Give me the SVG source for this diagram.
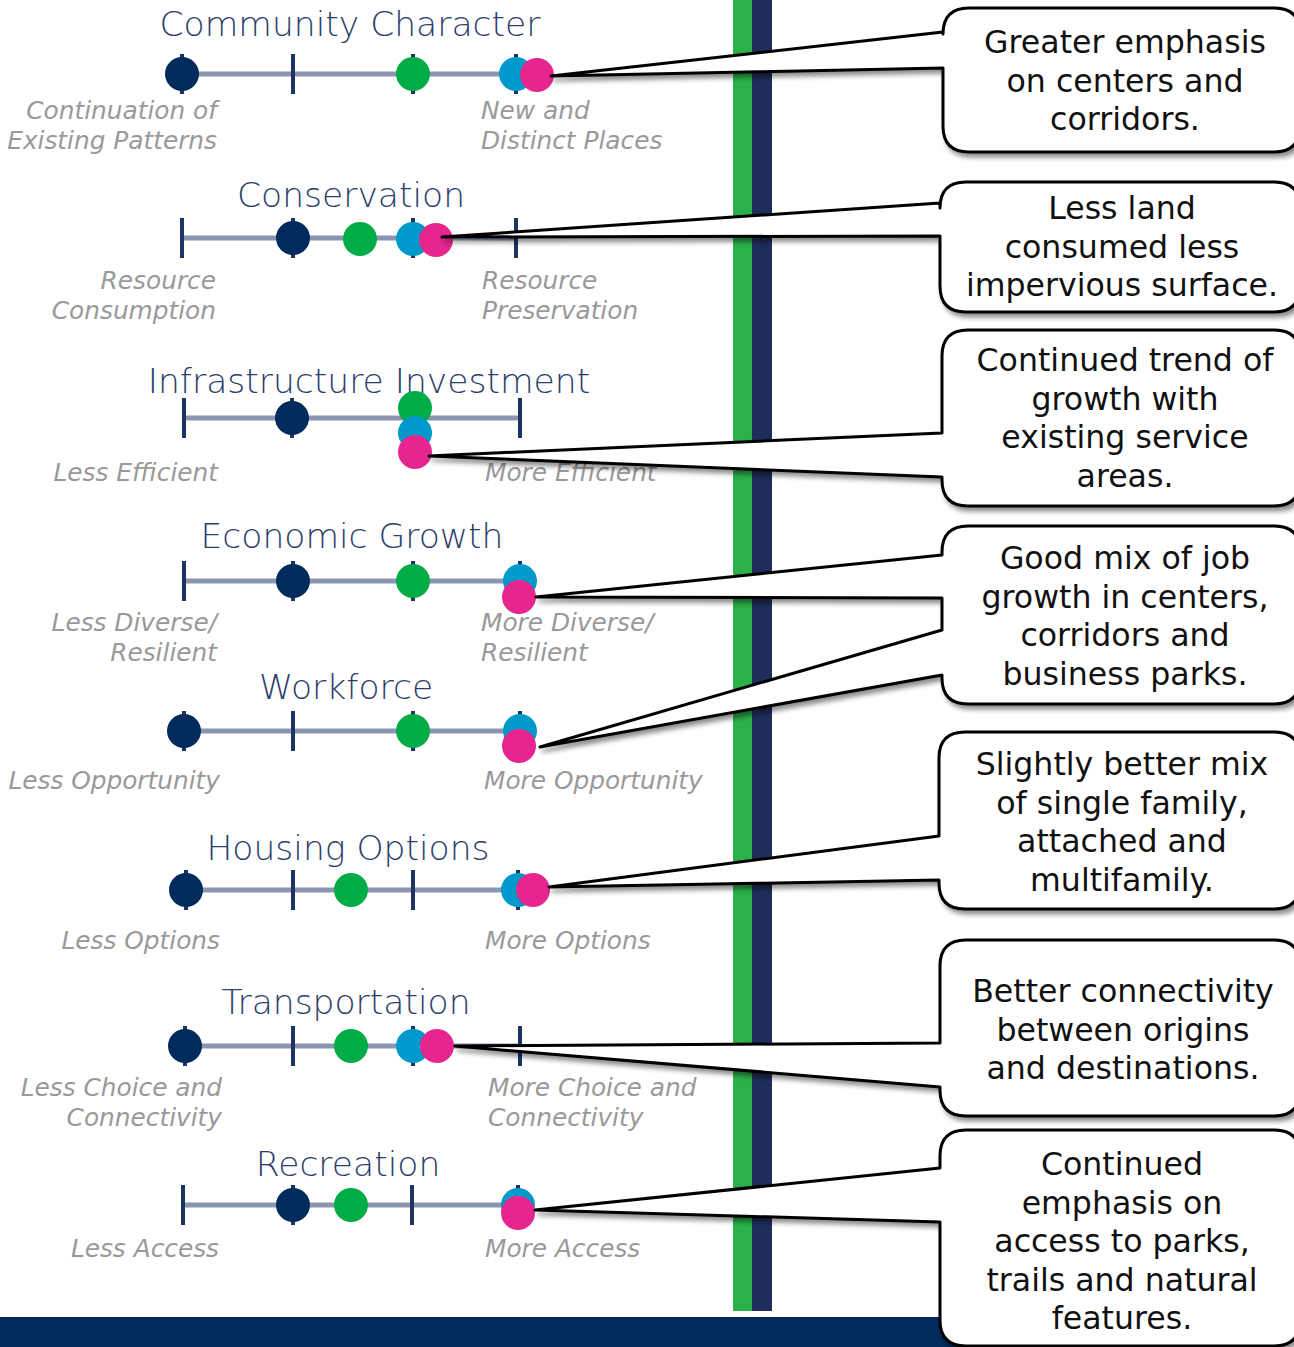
<svg xmlns="http://www.w3.org/2000/svg" width="1294" height="1347" viewBox="0 0 1294 1347">
<style>
.title{font-family:"DejaVu Sans",sans-serif;font-weight:300;font-size:34.5px;fill:#2c3e6b;text-anchor:middle}
.lbl{font-family:"DejaVu Sans",sans-serif;font-style:italic;font-weight:300;font-size:24.8px;fill:#999999}
.l{text-anchor:end}
.axis{stroke:#8a96af;stroke-width:5}
.tick{stroke:#1d3461;stroke-width:4}
.nv{fill:#002b5c}.gr{fill:#00ac45}.bl{fill:#0099cc}.pk{fill:#e6258f}
.co{fill:#fff;stroke:#000;stroke-width:3;stroke-linejoin:round}
.ct{font-family:"DejaVu Sans",sans-serif;font-size:31.6px;fill:#111;text-anchor:middle}
</style>
<defs>
<filter id="sh" x="-10%" y="-10%" width="130%" height="130%">
<feDropShadow dx="3" dy="4" stdDeviation="2.5" flood-color="#000" flood-opacity="0.45"/>
</filter>
</defs>
<rect width="1294" height="1347" fill="#fff"/>
<rect x="733" y="0" width="20" height="1311" fill="#2bb04a"/>
<rect x="752" y="0" width="20" height="1311" fill="#1e2d59"/>
<rect x="0" y="1317" width="1000" height="30" fill="#002b5c"/>

<g id="row-community">
<text class="title" x="350" y="36">Community Character</text>
<line class="axis" x1="182" y1="74" x2="516" y2="74"/>
<line class="tick" x1="182" y1="54" x2="182" y2="94"/><line class="tick" x1="293" y1="54" x2="293" y2="94"/><line class="tick" x1="413" y1="54" x2="413" y2="94"/><line class="tick" x1="516" y1="54" x2="516" y2="94"/>
<circle class="nv" cx="182" cy="74" r="17"/><circle class="gr" cx="413" cy="74" r="17"/><circle class="bl" cx="516" cy="74" r="17"/><circle class="pk" cx="537" cy="75" r="17"/>
<text class="lbl l" x="217" y="119">Continuation of</text><text class="lbl l" x="217" y="149">Existing Patterns</text>
<text class="lbl" x="481" y="119">New and</text><text class="lbl" x="481" y="149">Distinct Places</text>
</g>

<g id="row-conservation">
<text class="title" x="351" y="207">Conservation</text>
<line class="axis" x1="182" y1="238" x2="516" y2="238"/>
<line class="tick" x1="182" y1="218" x2="182" y2="258"/><line class="tick" x1="293" y1="218" x2="293" y2="258"/><line class="tick" x1="413" y1="218" x2="413" y2="258"/><line class="tick" x1="516" y1="218" x2="516" y2="258"/>
<circle class="nv" cx="293" cy="238" r="17"/><circle class="gr" cx="360" cy="239" r="17"/><circle class="bl" cx="413" cy="239" r="17"/><circle class="pk" cx="436" cy="240" r="17"/>
<text class="lbl l" x="216" y="289">Resource</text><text class="lbl l" x="216" y="319">Consumption</text>
<text class="lbl" x="482" y="289">Resource</text><text class="lbl" x="482" y="319">Preservation</text>
</g>

<g id="row-infrastructure">
<text class="title" x="369" y="393">Infrastructure Investment</text>
<line class="axis" x1="184" y1="418" x2="520" y2="418"/>
<line class="tick" x1="184" y1="398" x2="184" y2="438"/><line class="tick" x1="292" y1="398" x2="292" y2="438"/><line class="tick" x1="415" y1="398" x2="415" y2="438"/><line class="tick" x1="520" y1="398" x2="520" y2="438"/>
<circle class="nv" cx="292" cy="418" r="17"/><circle class="gr" cx="415" cy="408" r="17"/><circle class="bl" cx="415" cy="433" r="17"/><circle class="pk" cx="415" cy="452" r="17"/>
<text class="lbl l" x="218" y="481">Less Efficient</text>
<text class="lbl" x="485" y="481">More Efficient</text>
</g>

<g id="row-economic">
<text class="title" x="352" y="548">Economic Growth</text>
<line class="axis" x1="184" y1="581" x2="520" y2="581"/>
<line class="tick" x1="184" y1="561" x2="184" y2="601"/><line class="tick" x1="293" y1="561" x2="293" y2="601"/><line class="tick" x1="413" y1="561" x2="413" y2="601"/><line class="tick" x1="520" y1="561" x2="520" y2="601"/>
<circle class="nv" cx="293" cy="581" r="17"/><circle class="gr" cx="413" cy="581" r="17"/><circle class="bl" cx="520" cy="581" r="17"/><circle class="pk" cx="519" cy="597" r="17"/>
<text class="lbl l" x="217" y="631">Less Diverse/</text><text class="lbl l" x="217" y="661">Resilient</text>
<text class="lbl" x="481" y="631">More Diverse/</text><text class="lbl" x="481" y="661">Resilient</text>
</g>

<g id="row-workforce">
<text class="title" x="346" y="699">Workforce</text>
<line class="axis" x1="184" y1="731" x2="520" y2="731"/>
<line class="tick" x1="184" y1="711" x2="184" y2="751"/><line class="tick" x1="293" y1="711" x2="293" y2="751"/><line class="tick" x1="413" y1="711" x2="413" y2="751"/><line class="tick" x1="520" y1="711" x2="520" y2="751"/>
<circle class="nv" cx="184" cy="731" r="17"/><circle class="gr" cx="413" cy="731" r="17"/><circle class="bl" cx="520" cy="731" r="17"/><circle class="pk" cx="519" cy="746" r="17"/>
<text class="lbl l" x="220" y="789">Less Opportunity</text>
<text class="lbl" x="484" y="789">More Opportunity</text>
</g>

<g id="row-housing">
<text class="title" x="348" y="860">Housing Options</text>
<line class="axis" x1="186" y1="890" x2="518" y2="890"/>
<line class="tick" x1="186" y1="870" x2="186" y2="910"/><line class="tick" x1="293" y1="870" x2="293" y2="910"/><line class="tick" x1="413" y1="870" x2="413" y2="910"/><line class="tick" x1="518" y1="870" x2="518" y2="910"/>
<circle class="nv" cx="186" cy="890" r="17"/><circle class="gr" cx="351" cy="890" r="17"/><circle class="bl" cx="518" cy="890" r="17"/><circle class="pk" cx="533" cy="890" r="17"/>
<text class="lbl l" x="220" y="949">Less Options</text>
<text class="lbl" x="485" y="949">More Options</text>
</g>

<g id="row-transportation">
<text class="title" x="346" y="1014">Transportation</text>
<line class="axis" x1="185" y1="1046" x2="520" y2="1046"/>
<line class="tick" x1="185" y1="1026" x2="185" y2="1066"/><line class="tick" x1="293" y1="1026" x2="293" y2="1066"/><line class="tick" x1="413" y1="1026" x2="413" y2="1066"/><line class="tick" x1="520" y1="1026" x2="520" y2="1066"/>
<circle class="nv" cx="185" cy="1046" r="17"/><circle class="gr" cx="351" cy="1046" r="17"/><circle class="bl" cx="413" cy="1046" r="17"/><circle class="pk" cx="437" cy="1046" r="17"/>
<text class="lbl l" x="222" y="1096">Less Choice and</text><text class="lbl l" x="222" y="1126">Connectivity</text>
<text class="lbl" x="488" y="1096">More Choice and</text><text class="lbl" x="488" y="1126">Connectivity</text>
</g>

<g id="row-recreation">
<text class="title" x="348" y="1176">Recreation</text>
<line class="axis" x1="183" y1="1205" x2="518" y2="1205"/>
<line class="tick" x1="183" y1="1185" x2="183" y2="1225"/><line class="tick" x1="293" y1="1185" x2="293" y2="1225"/><line class="tick" x1="412" y1="1185" x2="412" y2="1225"/><line class="tick" x1="518" y1="1185" x2="518" y2="1225"/>
<circle class="nv" cx="293" cy="1205" r="17"/><circle class="gr" cx="351" cy="1205" r="17"/><circle class="bl" cx="518" cy="1205" r="17"/><circle class="pk" cx="518" cy="1213" r="17"/>
<text class="lbl l" x="219" y="1257">Less Access</text>
<text class="lbl" x="485" y="1257">More Access</text>
</g>

<g id="connectors" filter="url(#sh)">
<path id="callout-1" class="co" d="M943,34 Q943,8 969,8 H1274 Q1300,8 1300,34 V126 Q1300,152 1274,152 H969 Q943,152 943,126 V68 L551,76 L943,32 Z"/>
<path id="callout-2" class="co" d="M940,208 Q940,182 966,182 H1274 Q1300,182 1300,208 V286 Q1300,312 1274,312 H966 Q940,312 940,286 V236 L442,237 L940,203 Z"/>
<path id="callout-3" class="co" d="M942,356 Q942,330 968,330 H1274 Q1300,330 1300,356 V480 Q1300,506 1274,506 H968 Q942,506 942,480 V477 L429,456 L942,433 Z"/>
<path id="callout-4" class="co" d="M942,552 Q942,526 968,526 H1274 Q1300,526 1300,552 V678 Q1300,704 1274,704 H968 Q942,704 942,678 V675 L540,747 L942,630 V598 L536,597 L942,555 Z"/>
<path id="callout-5" class="co" d="M939,758 Q939,732 965,732 H1274 Q1300,732 1300,758 V883 Q1300,909 1274,909 H965 Q939,909 939,883 V880 L549,887 L939,836 Z"/>
<path id="callout-6" class="co" d="M940,966 Q940,940 966,940 H1274 Q1300,940 1300,966 V1090 Q1300,1116 1274,1116 H966 Q940,1116 940,1090 V1087 L455,1046 L940,1043 Z"/>
<path id="callout-7" class="co" d="M940,1156 Q940,1130 966,1130 H1274 Q1300,1130 1300,1156 V1320 Q1300,1346 1274,1346 H966 Q940,1346 940,1320 V1222 L535,1210 L940,1168 Z"/>
</g>

<g id="callout-texts">
<text class="ct" x="1125" y="53"><tspan x="1125">Greater emphasis</tspan><tspan x="1125" dy="38.5">on centers and</tspan><tspan x="1125" dy="38.5">corridors.</tspan></text>
<text class="ct" x="1122" y="219"><tspan x="1122">Less land</tspan><tspan x="1122" dy="38.5">consumed less</tspan><tspan x="1122" dy="38.5">impervious surface.</tspan></text>
<text class="ct" x="1125" y="371"><tspan x="1125">Continued trend of</tspan><tspan x="1125" dy="38.7">growth with</tspan><tspan x="1125" dy="38.7">existing service</tspan><tspan x="1125" dy="38.7">areas.</tspan></text>
<text class="ct" x="1125" y="569"><tspan x="1125">Good mix of job</tspan><tspan x="1125" dy="38.5">growth in centers,</tspan><tspan x="1125" dy="38.5">corridors and</tspan><tspan x="1125" dy="38.5">business parks.</tspan></text>
<text class="ct" x="1122" y="775"><tspan x="1122">Slightly better mix</tspan><tspan x="1122" dy="38.5">of single family,</tspan><tspan x="1122" dy="38.5">attached and</tspan><tspan x="1122" dy="38.5">multifamily.</tspan></text>
<text class="ct" x="1123" y="1002"><tspan x="1123">Better connectivity</tspan><tspan x="1123" dy="38.5">between origins</tspan><tspan x="1123" dy="38.5">and destinations.</tspan></text>
<text class="ct" x="1122" y="1175"><tspan x="1122">Continued</tspan><tspan x="1122" dy="38.5">emphasis on</tspan><tspan x="1122" dy="38.5">access to parks,</tspan><tspan x="1122" dy="38.5">trails and natural</tspan><tspan x="1122" dy="38.5">features.</tspan></text>
</g>
</svg>
